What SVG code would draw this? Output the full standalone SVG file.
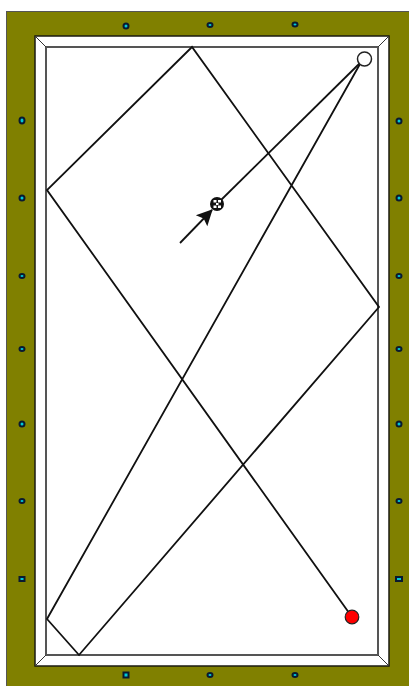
<svg xmlns="http://www.w3.org/2000/svg" width="409" height="686" viewBox="0 0 409 686">
<style>
.rail{fill:#808000;stroke:#555;stroke-width:1}
.diamond{fill:#00c8d8;stroke:#0a1a30;stroke-width:2}
.shot{fill:none;stroke:#111;stroke-width:1.800;stroke-linejoin:miter}
.edge{fill:none;stroke:#555;stroke-width:2}
.mitre{fill:none;stroke:#333;stroke-width:1}
</style>
<defs>
<marker id="head" markerWidth="18" markerHeight="18" refX="15" refY="9" orient="auto" markerUnits="userSpaceOnUse"><path d="M0 1L16 9L0 17L3 9Z" fill="#111"/></marker>
</defs>
<rect width="409" height="686" fill="#fff"/>
<g id="table">
<rect class="rail" x="6.500" y="11.500" width="410" height="690"/>
<rect x="35" y="36" width="354" height="630" fill="#fff" stroke="#1a1a10" stroke-width="1.500"/>
<rect class="edge" x="46" y="47" width="332" height="608"/>
<path class="mitre" d="M35 36L46 47M389 36L378 47M35 666L46 655M389 666L378 655"/>
</g>
<g id="diamonds">
<ellipse id="d-top-1" class="diamond" cx="126" cy="26" rx="2.500" ry="2.500"/>
<ellipse id="d-top-2" class="diamond" cx="210" cy="25" rx="2.500" ry="2"/>
<ellipse id="d-top-3" class="diamond" cx="295" cy="24.500" rx="2.500" ry="2"/>
<rect id="d-bottom-1" class="diamond" x="123.500" y="672.500" width="5" height="5"/>
<ellipse id="d-bottom-2" class="diamond" cx="210" cy="675" rx="2.500" ry="2"/>
<ellipse id="d-bottom-3" class="diamond" cx="295" cy="675" rx="2.500" ry="2"/>
<ellipse id="d-left-1" class="diamond" cx="22" cy="120.500" rx="2.500" ry="3"/>
<ellipse id="d-left-2" class="diamond" cx="22" cy="198" rx="2.500" ry="2.500"/>
<ellipse id="d-left-3" class="diamond" cx="22" cy="276" rx="2.500" ry="2"/>
<ellipse id="d-left-4" class="diamond" cx="22" cy="349" rx="2.500" ry="2"/>
<ellipse id="d-left-5" class="diamond" cx="22" cy="424" rx="2.500" ry="2.500"/>
<ellipse id="d-left-6" class="diamond" cx="22" cy="501" rx="2.500" ry="2"/>
<rect id="d-left-7" class="diamond" x="19.500" y="577" width="5" height="4"/>
<ellipse id="d-right-1" class="diamond" cx="399" cy="121" rx="2.500" ry="2.500"/>
<ellipse id="d-right-2" class="diamond" cx="399" cy="198" rx="2.500" ry="2.500"/>
<ellipse id="d-right-3" class="diamond" cx="399" cy="276" rx="2.500" ry="2"/>
<ellipse id="d-right-4" class="diamond" cx="399" cy="349" rx="2.500" ry="2"/>
<ellipse id="d-right-5" class="diamond" cx="399" cy="424" rx="2.500" ry="2.500"/>
<ellipse id="d-right-6" class="diamond" cx="399" cy="501" rx="2.500" ry="2"/>
<rect id="d-right-7" class="diamond" x="396" y="577" width="6" height="4"/>
</g>
<g id="connectors">
<path class="shot" d="M352 617L47 190L192 47L379 307L79 655L47 619L360 64"/>
<path class="shot" d="M360 63L217 204"/>
<path class="shot" d="M180 243L212 210" marker-end="url(#head)"/>
</g>
<g id="white-ball"><circle cx="364.500" cy="59" r="7" fill="#fff" stroke="#222" stroke-width="1.500"/></g>
<g id="red-ball"><circle cx="352" cy="617" r="6.800" fill="#f00" stroke="#222" stroke-width="1.200"/></g>
<g id="cue-ball"><circle cx="217" cy="204" r="7" fill="#111"/><path d="M213.500 200h3v2.500h-3zM218 200h3v2.500h-3zM213.500 205.500h3v2.500h-3zM218 205.500h3v2.500h-3zM216 203h2.500v2h-2.500z" fill="#fff"/></g>
</svg>
